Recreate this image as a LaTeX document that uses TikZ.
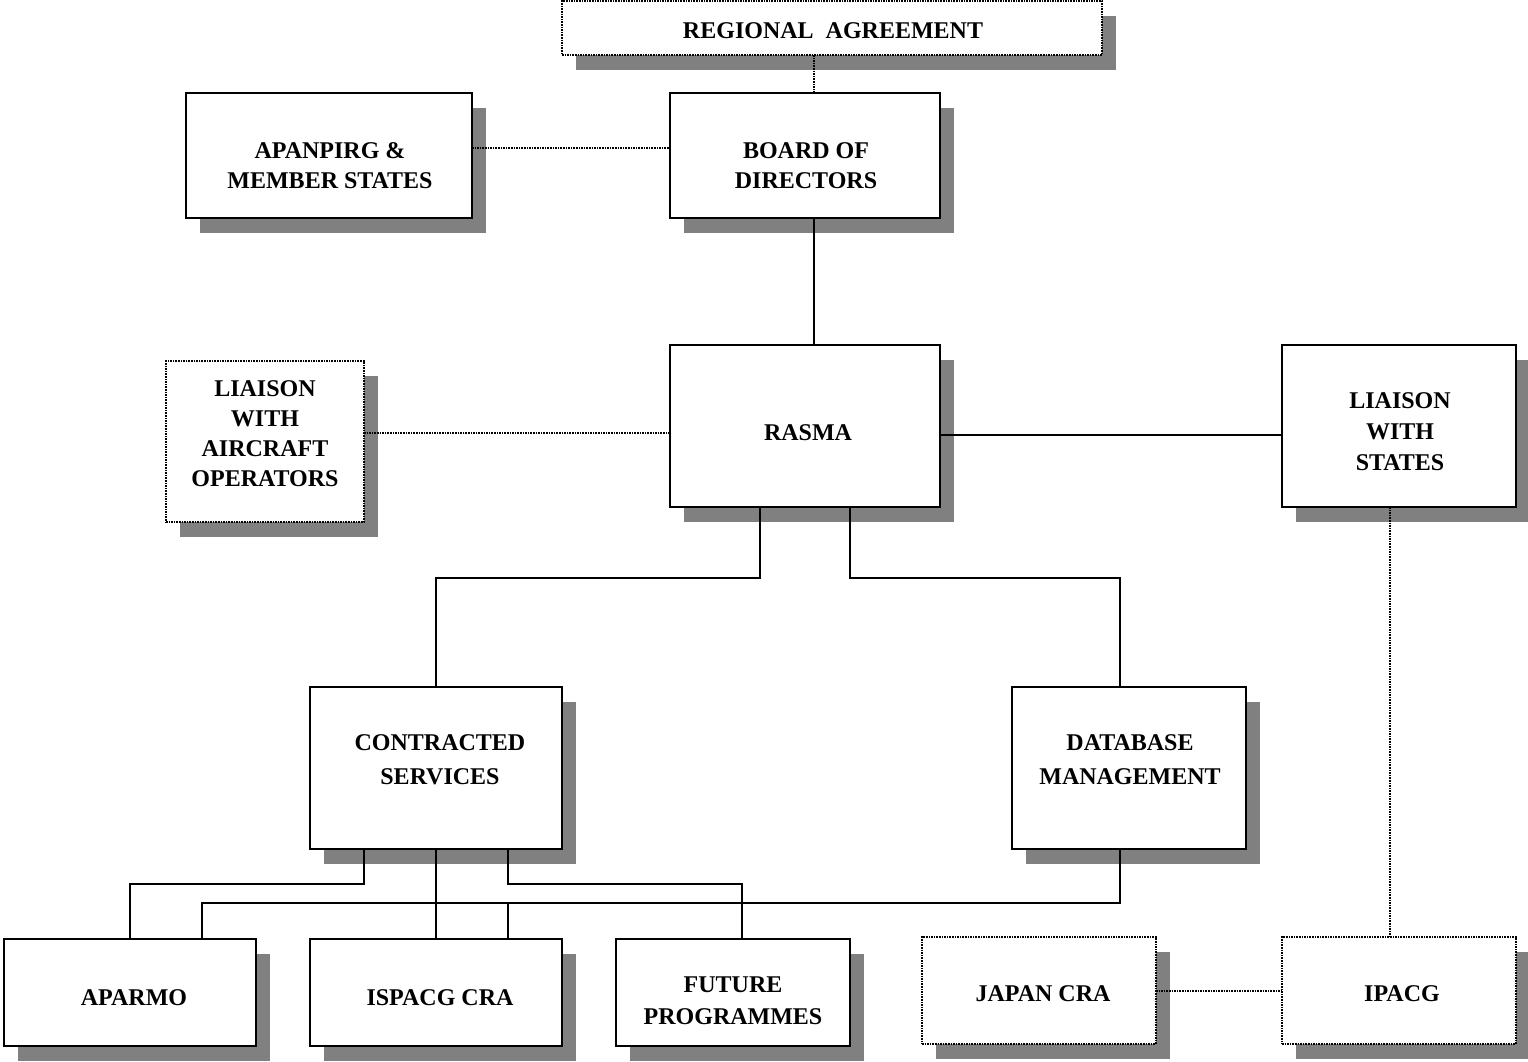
\documentclass[tikz,border=0pt]{standalone}
\usepackage{fontspec}
\setmainfont{Liberation Serif}
\definecolor{shadowgray}{HTML}{808080}
\tikzset{
  boxs/.style={draw, line width=2.2pt, fill=white, inner sep=0pt, outer sep=0pt},
  dotbox/.style={boxs, dash pattern=on 1.6pt off 1pt},
  shad/.style={fill=shadowgray},
  lbl/.style={font=\bfseries\fontsize{24}{30}\selectfont, align=center, inner sep=0pt},
  conn/.style={line width=2.2pt},
  dconn/.style={line width=2.2pt, dash pattern=on 1.6pt off 1pt},
}
\newcommand\orgbox[6]{% name, style, l, t, r, b
  \fill[shad] (#3+14,#4+15) rectangle (#5+14,#6+15);
  \node[#2, minimum width={#5-#3}, minimum height={#6-#4}] (#1) at ({(#3+#5)/2},{(#4+#6)/2}) {};
}
\begin{document}
\begin{tikzpicture}[x=1pt,y=-1pt]
\useasboundingbox (0,0) rectangle (1528,1061);
% boxes
\orgbox{reg}{dotbox}{562}{1}{1102}{55}
\orgbox{apan}{boxs}{186}{93}{472}{218}
\orgbox{board}{boxs}{670}{93}{940}{218}
\orgbox{lao}{dotbox}{166}{361}{364}{522}
\orgbox{rasma}{boxs}{670}{345}{940}{507}
\orgbox{lws}{boxs}{1282}{345}{1516}{507}
\orgbox{cs}{boxs}{310}{687}{562}{849}
\orgbox{db}{boxs}{1012}{687}{1246}{849}
\orgbox{aparmo}{boxs}{4}{939}{256}{1046}
\orgbox{ispacg}{boxs}{310}{939}{562}{1046}
\orgbox{future}{boxs}{616}{939}{850}{1046}
\orgbox{japan}{dotbox}{922}{937}{1156}{1044}
\orgbox{ipacg}{dotbox}{1282}{937}{1516}{1044}
% labels
\node[lbl] (t-reg) at (833,31) {REGIONAL\ \ AGREEMENT};
\node[lbl] (t-apan) at (330,166) {APANPIRG \&\\MEMBER STATES};
\node[lbl] (t-board) at (806,166) {BOARD OF\\DIRECTORS};
\node[lbl] (t-lao) at (265,434) {LIAISON\\WITH\\AIRCRAFT\\OPERATORS};
\node[lbl] (t-rasma) at (808,433) {RASMA};
\node[lbl, font=\bfseries\fontsize{24}{31}\selectfont] (t-lws) at (1400,432) {LIAISON\\WITH\\STATES};
\node[lbl, font=\bfseries\fontsize{24}{34}\selectfont] (t-cs) at (440,760) {CONTRACTED\\SERVICES};
\node[lbl, font=\bfseries\fontsize{24}{34}\selectfont] (t-db) at (1130,760) {DATABASE\\MANAGEMENT};
\node[lbl] (t-aparmo) at (134,998) {APARMO};
\node[lbl] (t-ispacg) at (440,998) {ISPACG CRA};
\node[lbl, font=\bfseries\fontsize{24}{32}\selectfont] (t-future) at (733,1001) {FUTURE\\PROGRAMMES};
\node[lbl] (t-japan) at (1043,994) {JAPAN CRA};
\node[lbl] (t-ipacg) at (1402,994) {IPACG};
% connectors
\draw[dconn] (reg.south -| 814,0) -- (board.north -| 814,0);
\draw[dconn] (apan.east |- 0,148) -- (board.west |- 0,148);
\draw[conn] (board.south -| 814,0) -- (rasma.north -| 814,0);
\draw[dconn] (lao.east |- 0,433) -- (rasma.west |- 0,433);
\draw[conn] (rasma.east |- 0,435) -- (lws.west |- 0,435);
\draw[conn] (rasma.south -| 760,0) -- (760,578) -- (436,578) -- (cs.north -| 436,0);
\draw[conn] (rasma.south -| 850,0) -- (850,578) -- (1120,578) -- (db.north -| 1120,0);
\draw[dconn] (lws.south -| 1390,0) -- (ipacg.north -| 1390,0);
\draw[conn] (cs.south -| 364,0) -- (364,884) -- (130,884) -- (aparmo.north -| 130,0);
\draw[conn] (cs.south -| 436,0) -- (ispacg.north -| 436,0);
\draw[conn] (cs.south -| 508,0) -- (508,884) -- (742,884) -- (future.north -| 742,0);
\draw[conn] (db.south -| 1120,0) -- (1120,903) -- (202,903) -- (aparmo.north -| 202,0);
\draw[conn] (508,903) -- (ispacg.north -| 508,0);
\draw[dconn] (japan.east |- 0,991) -- (ipacg.west |- 0,991);
\end{tikzpicture}
\end{document}
